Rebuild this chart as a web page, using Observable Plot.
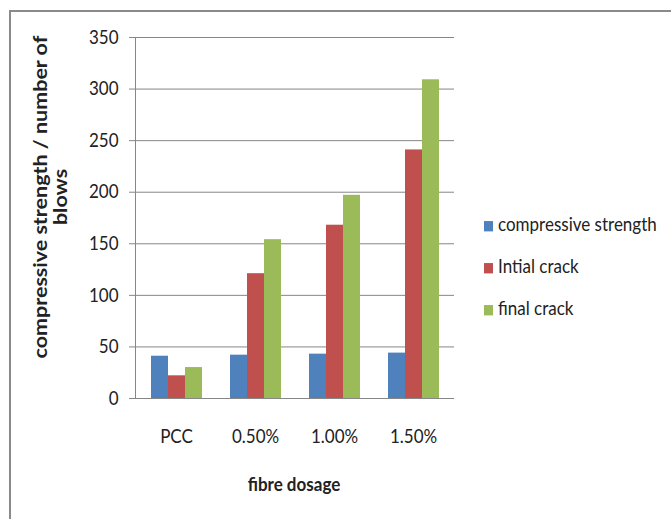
<!DOCTYPE html>
<html><head><meta charset="utf-8">
<script src="https://cdn.jsdelivr.net/npm/d3@7"></script>
<script src="https://cdn.jsdelivr.net/npm/@observablehq/plot@0.6"></script>
<style>
body{margin:0;background:#fff;}
#wrap{position:relative;width:671px;height:519px;overflow:hidden;background:#fff;font-family:Lato,sans-serif;color:#222;}
#wrap svg{position:absolute;left:0;top:0;}
#border{position:absolute;left:9px;top:10px;width:800px;height:700px;border-top:2px solid #8a8a8a;border-left:2px solid #8a8a8a;}
#legend{position:absolute;left:484px;top:215px;}
.lrow{position:relative;height:42px;font-size:17px;line-height:21px;white-space:nowrap;transform:scaleY(1.15);transform-origin:left center;}
.lsw{display:inline-block;width:9px;height:9px;margin-right:5px;vertical-align:0px;}
#xtitle{position:absolute;left:294px;top:484px;transform:translate(-50%,-50%) scaleY(1.15);font-weight:bold;font-size:17px;white-space:nowrap;}
#ytitle{position:absolute;left:50px;top:197px;width:420px;text-align:center;font-weight:bold;font-size:19px;line-height:20px;transform:translate(-50%,-50%) rotate(-90deg) scale(1.13,1);white-space:nowrap;}
</style></head><body><div id="wrap"><div id="border"></div></div>
<script>
const categories = ["PCC", "0.50%", "1.00%", "1.50%"];
const seriesNames = ["compressive strength", "Intial crack", "final crack"];
const compressiveStrength = [41, 42, 43, 44];
const initialCrack = [22, 121, 168, 241];
const finalCrack = [30, 154, 197, 309];
const yTicks = [0, 50, 100, 150, 200, 250, 300, 350];
const seriesColors = ["#4F81BD", "#C0504D", "#9BBB59"];
const xTitle = "fibre dosage";
const yTitleLines = ["compressive strength / number of", "blows"];

const seriesValues = [compressiveStrength, initialCrack, finalCrack];
const data = categories.flatMap((c, i) =>
  seriesNames.map((s, j) => ({category: c, series: s, value: seriesValues[j][i]})));

const dims = {width: 671, height: 519, marginLeft: 135, marginRight: 217, marginTop: 37, marginBottom: 121};
const gridColor = "#868686";

const bg = Plot.plot({
  ...dims,
  style: {fontFamily: "Lato, sans-serif", fontSize: "17px", color: "#222", background: "transparent", overflow: "visible"},
  x: {type: "point", domain: categories, padding: 0.5, label: null},
  y: {domain: [0, 350], label: null},
  marks: [
    Plot.gridY(yTicks, {stroke: gridColor, strokeOpacity: 1}),
    Plot.frame({anchor: "left", stroke: gridColor}),
    Plot.axisY(yTicks, {tickSize: 6, tickPadding: 11, stroke: gridColor, fill: "#222", label: null}),
    Plot.axisX({tickSize: 0, tickPadding: 31, fill: "#222", label: null})
  ]
});

// slight vertical stretch of tick labels, as in the reference
const stretch = 1.15;
bg.querySelectorAll("text").forEach(t => {
  const tr = t.getAttribute("transform");
  if (tr) t.setAttribute("transform", tr + ` scale(1,${stretch})`);
  else {
    const y = +(t.getAttribute("y") || 0);
    t.setAttribute("transform", `translate(0,${y}) scale(1,${stretch}) translate(0,${-y})`);
  }
});

const fg = Plot.plot({
  ...dims,
  style: {background: "transparent", overflow: "visible"},
  fx: {domain: categories, paddingInner: 1/3, paddingOuter: 1/6, axis: null, label: null},
  x: {domain: seriesNames, padding: 0, axis: null},
  y: {domain: [0, 350], axis: null},
  color: {domain: seriesNames, range: seriesColors},
  marks: [
    Plot.barY(data, {fx: "category", x: "series", y: "value", fill: "series"})
  ]
});

const wrap = document.getElementById("wrap");
wrap.appendChild(bg);
wrap.appendChild(fg);

const legend = document.createElement("div");
legend.id = "legend";
seriesNames.forEach((s, j) => {
  const row = document.createElement("div");
  row.className = "lrow";
  const sw = document.createElement("span");
  sw.className = "lsw";
  sw.style.background = seriesColors[j];
  row.appendChild(sw);
  row.appendChild(document.createTextNode(s));
  legend.appendChild(row);
});
wrap.appendChild(legend);

const xt = document.createElement("div");
xt.id = "xtitle";
xt.textContent = xTitle;
wrap.appendChild(xt);

const yt = document.createElement("div");
yt.id = "ytitle";
yt.innerHTML = yTitleLines.join("<br>");
wrap.appendChild(yt);
</script>
</body></html>
